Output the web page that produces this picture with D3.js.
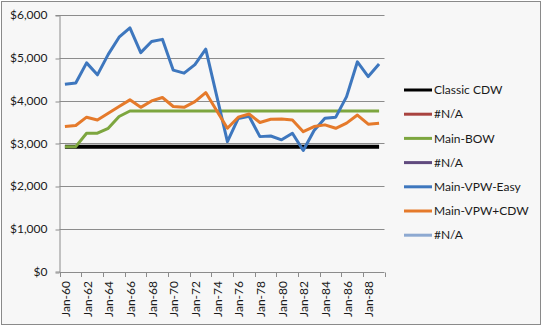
<!DOCTYPE html>
<html>
<head>
<meta charset="utf-8">
<script src="https://cdn.jsdelivr.net/npm/d3@7/dist/d3.min.js"></script>
<style>
  html, body { margin: 0; padding: 0; background: #fff; }
  svg { display: block; }
  text { font-family: Lato, "Liberation Sans", Arial, sans-serif; fill: #1a1a1a; }
</style>
</head>
<body>
<svg id="chart" width="542" height="326"></svg>
<script>
// ---- Data ----
const categories = ["Jan-60","Jan-61","Jan-62","Jan-63","Jan-64","Jan-65","Jan-66","Jan-67","Jan-68","Jan-69",
  "Jan-70","Jan-71","Jan-72","Jan-73","Jan-74","Jan-75","Jan-76","Jan-77","Jan-78","Jan-79",
  "Jan-80","Jan-81","Jan-82","Jan-83","Jan-84","Jan-85","Jan-86","Jan-87","Jan-88","Jan-89"];
const yTicks = [0, 1000, 2000, 3000, 4000, 5000, 6000];

const classicCDW = [2920,2920,2920,2920,2920,2920,2920,2920,2920,2920,2920,2920,2920,2920,2920,
  2920,2920,2920,2920,2920,2920,2920,2920,2920,2920,2920,2920,2920,2920,2920];
const naRed = [];
const mainBOW = [2920,2920,3235,3235,3350,3625,3755,3755,3755,3755,3755,3755,3755,3755,3755,
  3755,3755,3755,3755,3755,3755,3755,3755,3755,3755,3755,3755,3755,3755,3755];
const naPurple = [];
const mainVPWEasy = [4380,4410,4880,4600,5080,5480,5700,5120,5380,5430,4710,4640,4840,5200,4120,
  3040,3580,3630,3155,3170,3080,3235,2830,3300,3585,3610,4090,4905,4560,4855];
const mainVPWCDW = [3390,3415,3610,3545,3700,3860,4015,3840,3990,4070,3860,3840,3975,4185,3765,
  3350,3610,3685,3485,3560,3570,3545,3270,3390,3430,3350,3470,3660,3445,3470];
const naLightBlue = [];

const seriesNames = ["Classic CDW","#N/A","Main-BOW","#N/A","Main-VPW-Easy","Main-VPW+CDW","#N/A"];
const seriesColors = ["#000000","#A9433F","#7DA63F","#604A7E","#3E77BE","#E57A2B","#8DA9D1"];
const seriesValues = [classicCDW, naRed, mainBOW, naPurple, mainVPWEasy, mainVPWCDW, naLightBlue];
const seriesWidths = [4, 3, 3, 3, 3, 3, 3];

// ---- Layout ----
const svg = d3.select("#chart");
const W = 542, H = 326;
const plot = { left: 59.5, right: 384.5, top: 15, bottom: 271.5 };

svg.append("rect").attr("x", 1.5).attr("y", 1.5).attr("width", W - 3).attr("height", H - 3)
  .attr("fill", "#f7f7f7").attr("stroke", "#8a8a8a").attr("stroke-width", 1);

const x = d3.scaleBand().domain(categories).range([plot.left, plot.right]).padding(0);
const y = d3.scaleLinear().domain([0, 6000]).range([plot.bottom, plot.top]);

// gridlines
svg.append("g").selectAll("line").data(yTicks.filter(d => d > 0)).join("line")
  .attr("x1", plot.left).attr("x2", plot.right)
  .attr("y1", d => Math.round(y(d)) + 0.5).attr("y2", d => Math.round(y(d)) + 0.5)
  .attr("stroke", "#8c8c8c").attr("stroke-width", 1);

// y axis
const yAxis = d3.axisLeft(y).tickValues(yTicks).tickSize(4).tickPadding(8)
  .tickFormat(d => "$" + d3.format(",")(d));
const gy = svg.append("g").attr("transform", `translate(${plot.left},0)`).call(yAxis);
gy.select(".domain").attr("stroke", "#8c8c8c");
gy.selectAll(".tick line").attr("stroke", "#8c8c8c")
  .attr("transform", d => `translate(0,${Math.round(y(d)) + 0.5 - y(d)})`);
gy.selectAll(".tick text").style("font-size", "12px").attr("fill", "#1a1a1a");

// x axis line
svg.append("line").attr("x1", plot.left).attr("x2", plot.right)
  .attr("y1", Math.round(plot.bottom) + 0.5).attr("y2", Math.round(plot.bottom) + 0.5)
  .attr("stroke", "#8c8c8c");

// x tick marks (every 2 categories, at category boundaries)
const tickCats = categories.filter((c, i) => i % 2 === 0);
const tickXs = tickCats.map(c => x(c)).concat([x(categories[categories.length - 1]) + x.bandwidth()]);
svg.append("g").selectAll("line").data(tickXs).join("line")
  .attr("x1", d => Math.round(d) + 0.5).attr("x2", d => Math.round(d) + 0.5)
  .attr("y1", Math.round(plot.bottom) + 0.5).attr("y2", Math.round(plot.bottom) + 5)
  .attr("stroke", "#8c8c8c");

// x labels (rotated)
svg.append("g").selectAll("text").data(tickCats).join("text")
  .attr("transform", d => `translate(${x(d) + x.bandwidth() / 2 + 5},${plot.bottom + 9.5}) rotate(-90)`)
  .attr("text-anchor", "end")
  .style("font-size", "12px")
  .text(d => d);

// lines
const line = d3.line()
  .defined(d => d != null)
  .x((d, i) => x(categories[i]) + x.bandwidth() / 2)
  .y(d => y(d));

seriesValues.forEach((vals, k) => {
  if (!vals.length) return;
  svg.append("path").datum(vals)
    .attr("d", line)
    .attr("fill", "none")
    .attr("stroke", seriesColors[k])
    .attr("stroke-width", seriesWidths[k])
    .attr("stroke-linejoin", "round")
    .attr("stroke-linecap", "butt");
});

// legend
const legend = svg.append("g");
seriesNames.forEach((name, k) => {
  const ly = 90 + k * 24.2;
  legend.append("line").attr("x1", 404).attr("x2", 432).attr("y1", ly).attr("y2", ly)
    .attr("stroke", seriesColors[k]).attr("stroke-width", 3);
  legend.append("text").attr("x", 434).attr("y", ly).attr("dy", "0.35em")
    .style("font-size", "12px").text(name);
});
</script>
</body>
</html>
